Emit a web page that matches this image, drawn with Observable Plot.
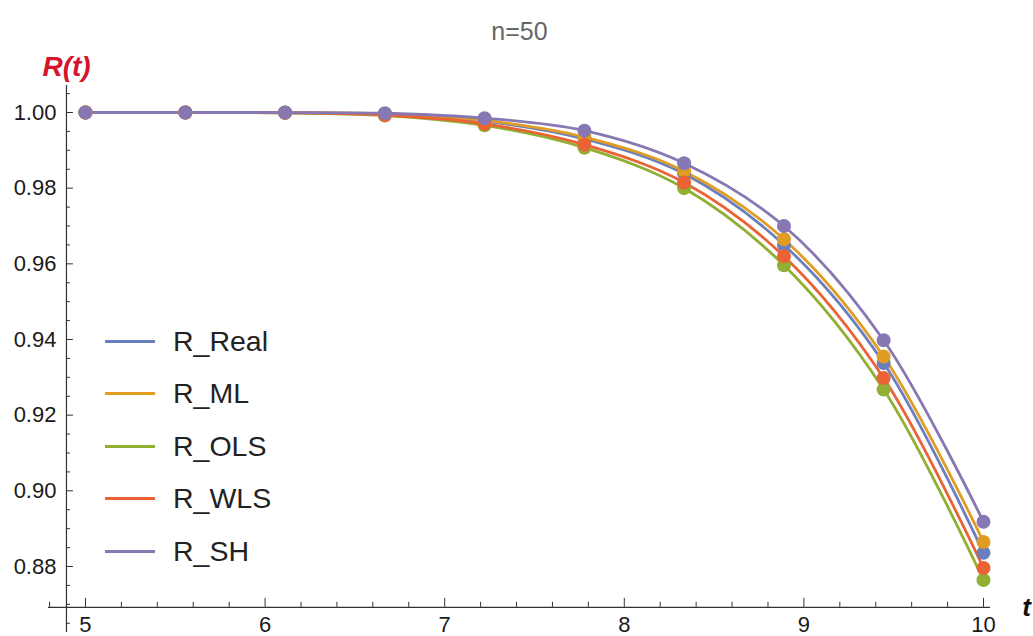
<!DOCTYPE html>
<html>
<head>
<meta charset="utf-8">
<script src="https://cdn.jsdelivr.net/npm/d3@7"></script>
<script src="https://cdn.jsdelivr.net/npm/@observablehq/plot@0.6"></script>
<style>
  body { margin: 0; background: #fff; }
  #wrap { position: relative; width: 1033px; height: 636px; font-family: "Liberation Sans", Arial, sans-serif; }
  #legend { position: absolute; left: 105px; top: 315px; }
  .item { display: flex; align-items: center; height: 52.5px; }
  .sw { width: 50px; height: 3px; margin-right: 18px; }
  .lab { font-size: 28.5px; color: #222; }
</style>
</head>
<body>
<div id="wrap"><div id="legend"></div></div>
<script>
const t = [5, 5.556, 6.111, 6.667, 7.222, 7.778, 8.333, 8.889, 9.444, 10];
const seriesNames = ["R_Real", "R_ML", "R_OLS", "R_WLS", "R_SH"];
const R_Real = [1.0000, 1.0000, 0.99996, 0.9995, 0.9977, 0.9930, 0.9838, 0.9650, 0.9338, 0.8836];
const R_ML   = [1.0000, 1.0000, 0.99997, 0.9996, 0.9979, 0.9935, 0.9845, 0.9665, 0.9355, 0.8865];
const R_OLS  = [1.0000, 1.0000, 0.99993, 0.9992, 0.9966, 0.9907, 0.9800, 0.9596, 0.9268, 0.8764];
const R_WLS  = [1.0000, 1.0000, 0.99994, 0.9993, 0.9970, 0.9915, 0.9815, 0.9620, 0.9298, 0.8796];
const R_SH   = [1.0000, 1.0000, 0.99999, 0.9998, 0.9985, 0.9952, 0.9866, 0.9700, 0.9398, 0.8918];
const xMajor = [5, 6, 7, 8, 9, 10];
const yMajor = [0.88, 0.90, 0.92, 0.94, 0.96, 0.98, 1.00];
const colors = ["#6a7fbd", "#e19c24", "#8fb032", "#eb6235", "#8778b3"];

const values = [R_Real, R_ML, R_OLS, R_WLS, R_SH];
const rows = seriesNames.flatMap((s, i) => t.map((tt, j) => ({series: s, t: tt, r: values[i][j]})));

// axis geometry (Mathematica-style axes crossing)
const xDom = [4.794, 10.039];
const yDom = [0.86255, 1.00714];
const W = 1033, H = 636, mL = 48, mR = 43, mT = 85, mB = 4;
const pxX = (xDom[1] - xDom[0]) / (W - mL - mR);
const pxY = (yDom[1] - yDom[0]) / (H - mT - mB);
const xAxisY = 0.8692;
const yAxisX = 4.894;

const xMinor = d3.range(48, 100, 2).map(v => v / 10).filter(v => !xMajor.includes(v));
const yMinor = d3.range(173, 202, 1).map(v => +(v * 0.005).toFixed(3)).filter(v => !yMajor.some(m => Math.abs(m - v) < 1e-9));

const font = "Liberation Sans, Arial, sans-serif";

const chart = Plot.plot({
  width: W, height: H,
  marginLeft: mL, marginRight: mR, marginTop: mT, marginBottom: mB,
  style: {fontFamily: font, background: "transparent", overflow: "visible"},
  x: {domain: xDom, axis: null},
  y: {domain: yDom, axis: null},
  color: {domain: seriesNames, range: colors},
  marks: [
    Plot.ruleY([xAxisY], {x1: xDom[0], x2: xDom[1], stroke: "#333", strokeWidth: 1.2}),
    Plot.ruleX([yAxisX], {y1: yDom[0], y2: yDom[1], stroke: "#333", strokeWidth: 1.2}),
    Plot.ruleX(xMajor, {x: d => d, y1: xAxisY, y2: xAxisY + 9 * pxY, stroke: "#333"}),
    Plot.ruleX(xMinor, {x: d => d, y1: xAxisY, y2: xAxisY + 5 * pxY, stroke: "#333"}),
    Plot.ruleY(yMajor, {y: d => d, x1: yAxisX, x2: yAxisX + 7 * pxX, stroke: "#333"}),
    Plot.ruleY(yMinor, {y: d => d, x1: yAxisX, x2: yAxisX + 4 * pxX, stroke: "#333"}),
    Plot.text(xMajor, {x: d => d, y: xAxisY, dy: 18, text: d => String(d), fontSize: 22, fill: "#1a1a1a", lineAnchor: "middle"}),
    Plot.text(yMajor, {x: yAxisX, y: d => d, dx: -10, text: d => d.toFixed(2), textAnchor: "end", fontSize: 22, fill: "#1a1a1a"}),
    Plot.line(rows, {x: "t", y: "r", stroke: "series", strokeWidth: 2.8, curve: "catmull-rom"}),
    Plot.dot(rows, {x: "t", y: "r", fill: "series", r: 7}),
    Plot.text(["n=50"], {frameAnchor: "top", dy: -63, text: d => d, fontSize: 25, fill: "#666"}),
    Plot.text(["R(t)"], {frameAnchor: "top-left", dx: 18, dy: -29, text: d => d, fontSize: 28, fontWeight: "bold", fontStyle: "italic", fill: "#d4152a", textAnchor: "middle"}),
    Plot.text(["t"], {x: xDom[1], y: xAxisY, dx: 36, text: d => d, fontSize: 26, fontWeight: "bold", fontStyle: "italic", fill: "#111"})
  ]
});

const wrap = document.getElementById("wrap");
wrap.insertBefore(chart, wrap.firstChild);

const legend = document.getElementById("legend");
seriesNames.forEach((s, i) => {
  const item = document.createElement("div");
  item.className = "item";
  const sw = document.createElement("div");
  sw.className = "sw";
  sw.style.background = colors[i];
  const lab = document.createElement("div");
  lab.className = "lab";
  lab.textContent = s;
  item.appendChild(sw);
  item.appendChild(lab);
  legend.appendChild(item);
});
</script>
</body>
</html>
